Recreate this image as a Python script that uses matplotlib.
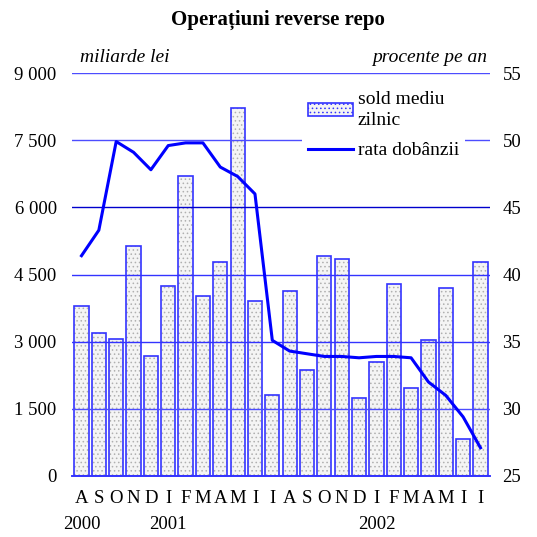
"""Reverse repo operations: monthly average balance (bars) and interest rate (line)."""

import matplotlib

matplotlib.use("Agg")
import matplotlib.pyplot as plt
import numpy as np
from matplotlib.lines import Line2D
from matplotlib.patches import Patch

plt.rcParams["font.family"] = ["Liberation Serif", "DejaVu Serif"]
plt.rcParams["hatch.linewidth"] = 0.6

MONTHS = ["A", "S", "O", "N", "D", "I", "F", "M", "A", "M", "I", "I",
          "A", "S", "O", "N", "D", "I", "F", "M", "A", "M", "I", "I"]
YEAR_LABELS = {0: "2000", 5: "2001", 17: "2002"}

# sold mediu zilnic (miliarde lei)
BALANCE = [3800, 3200, 3070, 5130, 2670, 4240, 6700, 4020, 4790, 8210, 3900, 1800,
           4140, 2360, 4920, 4840, 1740, 2540, 4280, 1960, 3030, 4190, 820, 4780]
# rata dobanzii (procente pe an)
RATE = [41.4, 43.3, 49.9, 49.1, 47.8, 49.6, 49.8, 49.8, 48.0, 47.3, 46.0, 35.1,
        34.3, 34.1, 33.9, 33.9, 33.8, 33.9, 33.9, 33.8, 32.0, 31.0, 29.4, 27.1]

BLUE = "#0000ff"
EDGE = "#3333ff"

fig = plt.figure(figsize=(5.37, 5.37), dpi=100)
ax = fig.add_axes([0.134, 0.1136, 0.7785, 0.7504])
ax2 = ax.twinx()

x = np.arange(len(MONTHS))

# bars: dotted fill, then blue outline on top
ax.bar(x, BALANCE, width=0.82, color="#f4f4f4", edgecolor="#b0b0b0",
       hatch="....", linewidth=0, zorder=2)
ax.bar(x, BALANCE, width=0.82, facecolor="none", edgecolor=EDGE,
       linewidth=1.2, zorder=3)

ax.set_xlim(-0.55, len(MONTHS) - 0.45)
ax.set_ylim(0, 9000)
ax.set_yticks(np.arange(0, 9001, 1500))
ax.set_yticklabels(["0", "1 500", "3 000", "4 500", "6 000", "7 500", "9 000"])
ax.set_xticks(x)
ax.set_xticklabels(MONTHS)
ax.tick_params(axis="y", length=0, pad=11, labelsize=13.5)
ax.tick_params(axis="x", length=0, pad=10, labelsize=13.5)

for i, year in YEAR_LABELS.items():
    ax.text(i, -0.1, year, transform=ax.get_xaxis_transform(),
            ha="center", va="top", fontsize=13.5)

ax2.set_ylim(25, 55)
ax2.set_yticks(np.arange(25, 56, 5))
ax2.tick_params(axis="y", length=0, pad=9, labelsize=13.5)

# horizontal grid above bars, below the line
grid_colors = {30: "#4d4dff", 35: "#3333ff", 40: "#3333ff", 45: "#0000cc", 50: "#4d4dff"}
for level, col in grid_colors.items():
    ax2.axhline(level, color=col, linewidth=1.0, zorder=1)
ax2.axhline(55, color="#4d4dff", linewidth=1.0, zorder=1)

ax2.plot(x, RATE, color=BLUE, linewidth=2.2, zorder=4)

for a in (ax, ax2):
    for side in ("left", "right", "top"):
        a.spines[side].set_visible(False)
    a.spines["bottom"].set_color(EDGE)
    a.spines["bottom"].set_linewidth(1.2)

handles = [
    Patch(facecolor="#f4f4f4", edgecolor=EDGE, hatch="....", linewidth=1.2),
    Line2D([], [], color=BLUE, linewidth=2.2),
]
leg = ax2.legend(handles, ["sold mediu\nzilnic", "rata dobânzii"],
                 loc="upper left", bbox_to_anchor=(0.528, 0.995),
                 frameon=True, fontsize=14, handlelength=2.3,
                 handletextpad=0.25, borderpad=0.3, labelspacing=0.65)
for t in leg.get_texts():
    t.set_linespacing(1.35)
leg.get_frame().set_facecolor("white")
leg.get_frame().set_edgecolor("none")
leg.get_frame().set_alpha(1.0)
leg.set_zorder(5)

fig.text(0.149, 0.893, "miliarde lei", style="italic", fontsize=14,
         ha="left", va="center")
fig.text(0.907, 0.893, "procente pe an", style="italic", fontsize=14,
         ha="right", va="center")
fig.text(0.518, 0.962, "Operațiuni reverse repo", fontweight="bold", fontsize=15,
         ha="center", va="center")

fig.savefig("out.png", dpi=100)
